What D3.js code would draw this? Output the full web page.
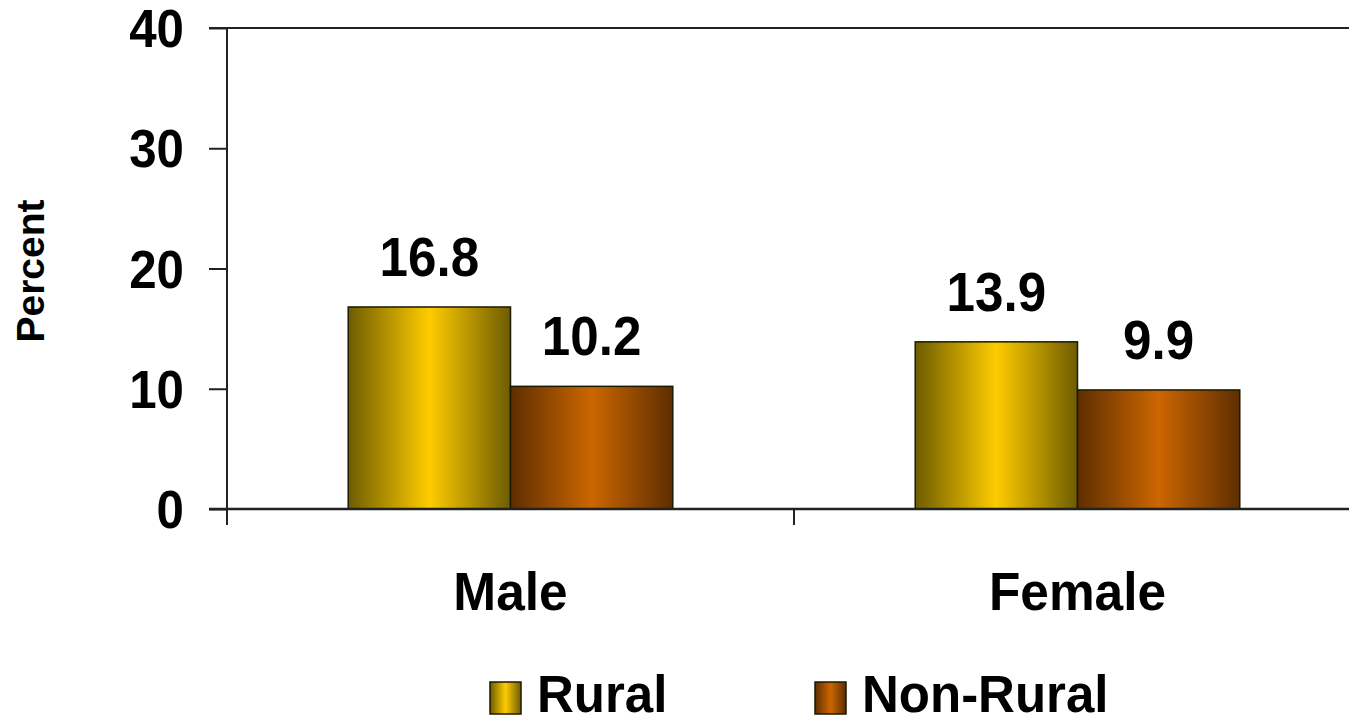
<!DOCTYPE html>
<html>
<head>
<meta charset="utf-8">
<script src="https://cdn.jsdelivr.net/npm/d3@7"></script>
<style>
  html, body { margin: 0; padding: 0; background: #fff; }
  svg { display: block; font-family: "Liberation Sans", Arial, sans-serif; font-weight: bold; }
</style>
</head>
<body>
<svg id="chart" width="1349" height="724"></svg>
<script>
const categories = ["Male", "Female"];
const series = ["Rural", "Non-Rural"];
const rural = [16.8, 13.9];
const nonRural = [10.2, 9.9];
const yTicks = [0, 10, 20, 30, 40];
const yLabel = "Percent";

const values = { "Rural": rural, "Non-Rural": nonRural };

const svg = d3.select("#chart");
const defs = svg.append("defs");

function grad(id, edge, mid) {
  const g = defs.append("linearGradient").attr("id", id)
    .attr("x1", "0%").attr("x2", "100%").attr("y1", "0%").attr("y2", "0%");
  g.append("stop").attr("offset", "0%").attr("stop-color", edge);
  g.append("stop").attr("offset", "50%").attr("stop-color", mid);
  g.append("stop").attr("offset", "100%").attr("stop-color", edge);
}
grad("gRural", "#6e5c00", "#ffcc00");
grad("gNon", "#5e2e00", "#cc6600");
const fills = { "Rural": "url(#gRural)", "Non-Rural": "url(#gNon)" };

function label(px, py, txt, size, sx, anchor) {
  return svg.append("text")
    .attr("transform", `translate(${px},${py}) scale(${sx},1)`)
    .attr("text-anchor", anchor).attr("font-size", size).attr("fill", "#000").text(txt);
}

const x0 = 227, x1 = 1361, yTop = 28, yBase = 509;
const x = d3.scaleBand().domain(categories).range([x0, x1]).paddingInner(0).paddingOuter(0);
const xs = d3.scaleBand().domain(series).range([0, x.bandwidth()]).paddingInner(0).paddingOuter(0.747);
const y = d3.scaleLinear().domain([0, 40]).range([yBase, yTop]);

const axisColor = "#222";

// top line at max
svg.append("line").attr("x1", 209).attr("x2", 1349).attr("y1", y(40)).attr("y2", y(40))
  .attr("stroke", axisColor).attr("stroke-width", 2);

// bars
categories.forEach((c, i) => {
  series.forEach(s => {
    const v = values[s][i];
    svg.append("rect")
      .attr("x", x(c) + xs(s)).attr("y", y(v))
      .attr("width", xs.bandwidth()).attr("height", y(0) - y(v))
      .attr("fill", fills[s]).attr("stroke", "#1a1a00").attr("stroke-width", 1.5);
    label(x(c) + xs(s) + xs.bandwidth() / 2, y(v) - 31, v.toFixed(1), 55, 0.93, "middle");
  });
});

// y axis ticks (via d3 axis) and labels
const yAxis = d3.axisLeft(y).tickValues(yTicks).tickSize(18).tickFormat("");
const gy = svg.append("g").attr("transform", `translate(${x0},0)`).call(yAxis);
gy.select(".domain").remove();
gy.selectAll(".tick line").attr("stroke", axisColor).attr("stroke-width", 2);
yTicks.forEach(t => {
  label(184, y(t) + 19, d3.format("d")(t), 53, 0.93, "end");
});
svg.append("line").attr("x1", x0).attr("x2", x0).attr("y1", yTop).attr("y2", 525)
  .attr("stroke", axisColor).attr("stroke-width", 2);

// x axis baseline
svg.append("line").attr("x1", 209).attr("x2", 1349).attr("y1", yBase).attr("y2", yBase)
  .attr("stroke", axisColor).attr("stroke-width", 2.5);
// category separators
const seps = categories.map(c => x(c)).concat([x1]);
seps.forEach(sx => {
  svg.append("line").attr("x1", sx).attr("x2", sx).attr("y1", yBase).attr("y2", 525)
    .attr("stroke", axisColor).attr("stroke-width", 2);
});
// category labels
categories.forEach(c => {
  label(x(c) + x.bandwidth() / 2, 610, c, 53, 0.97, "middle");
});

// y label
svg.append("text").attr("transform", "translate(44,271) rotate(-90)")
  .attr("text-anchor", "middle").attr("font-size", 39).attr("fill", "#000").text(yLabel);

// legend
const legendItems = [{ s: "Rural", x: 490 }, { s: "Non-Rural", x: 815 }];
legendItems.forEach(l => {
  svg.append("rect").attr("x", l.x).attr("y", 682).attr("width", 31).attr("height", 32)
    .attr("fill", fills[l.s]).attr("stroke", "#1a1a00").attr("stroke-width", 1.5);
  label(l.x + 47, 712, l.s, 51, 1.0, "start");
});
</script>
</body>
</html>
